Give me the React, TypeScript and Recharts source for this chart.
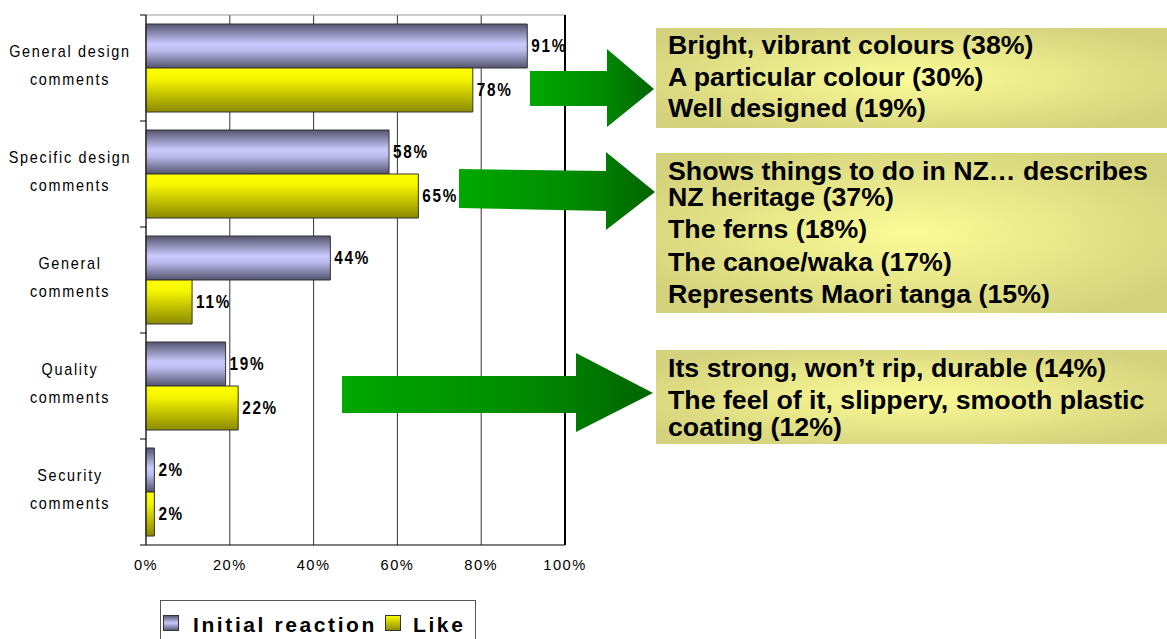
import React from 'react';
import { BarChart, Bar, XAxis, YAxis, CartesianGrid, LabelList, ReferenceLine } from 'recharts';

const categories = ['General design comments', 'Specific design comments', 'General comments', 'Quality comments', 'Security comments'];
const categoryLines = [
  ['General design', 'comments'],
  ['Specific design', 'comments'],
  ['General', 'comments'],
  ['Quality', 'comments'],
  ['Security', 'comments'],
];
const initialReaction = [91, 58, 44, 19, 2];
const likeValues = [78, 65, 11, 22, 2];
const xTicks = [0, 20, 40, 60, 80, 100];
const seriesNames = ['Initial reaction', 'Like'];

const box1Lines = ['Bright, vibrant colours (38%)', 'A particular colour (30%)', 'Well designed (19%)'];
const box2Lines = ['Shows things to do in NZ\u2026 describes', 'NZ heritage (37%)', 'The ferns (18%)', 'The canoe/waka (17%)', 'Represents Maori tanga (15%)'];
const box3Lines = ['Its strong, won\u2019t rip, durable (14%)', 'The feel of it, slippery, smooth plastic', 'coating (12%)'];

const data = categories.map((c, i) => ({ category: c, initial: initialReaction[i], like: likeValues[i] }));

const W = 1167;
const H = 639;
const M_TOP = 15;
const M_RIGHT = 602;
const M_BOTTOM = 64;
const X_AXIS_H = 30;
const Y_AXIS_W = 146;
const PLOT_LEFT = Y_AXIS_W;
const PLOT_H = H - M_TOP - M_BOTTOM - X_AXIS_H;
const BAND = PLOT_H / categories.length;

const FONT = "'Liberation Sans', Arial, Helvetica, sans-serif";

function StretchText({ x, y, anchor = 'start', size, weight = 'normal', spacing = 0, sx = 1, children }: any) {
  return (
    <g transform={`translate(${x},${y}) scale(${sx},1)`}>
      <text x={0} y={0} textAnchor={anchor} dominantBaseline="central" fontFamily={FONT}
        fontSize={size} fontWeight={weight} letterSpacing={spacing} fill="#000">{children}</text>
    </g>
  );
}

function YTick(props: any) {
  const { y, index } = props;
  const lines = categoryLines[index] || [];
  return (
    <g>
      <line x1={PLOT_LEFT - 6} x2={PLOT_LEFT} y1={y - BAND / 2} y2={y - BAND / 2} stroke="#000" />
      {index === categories.length - 1 && (
        <line x1={PLOT_LEFT - 6} x2={PLOT_LEFT} y1={y + BAND / 2} y2={y + BAND / 2} stroke="#000" />
      )}
      <StretchText x={70} y={y - 17} anchor="middle" size={16} sx={0.9} spacing={1.9}>{lines[0]}</StretchText>
      <StretchText x={70} y={y + 11} anchor="middle" size={16} sx={0.9} spacing={1.9}>{lines[1]}</StretchText>
    </g>
  );
}

function XTick(props: any) {
  const { x, y, payload } = props;
  return <StretchText x={x} y={y + 12} anchor="middle" size={14} sx={1.05} spacing={1.4}>{`${payload.value}%`}</StretchText>;
}

const renderValueLabel = (props: any) => {
  const { x, y, width, height, value } = props;
  return <StretchText x={x + width + 4} y={y + height / 2} size={18} sx={0.85} spacing={2} weight="bold">{`${value}%`}</StretchText>;
};

function Arrow({ pts, id }: { pts: string; id: string }) {
  return <polygon points={pts} fill={`url(#${id})`} />;
}

function TextBox({ x, y, w, h, lines, lineYs }: any) {
  return (
    <g>
      <rect x={x} y={y} width={w} height={h} fill="url(#boxGrad)" />
      {lines.map((l: string, i: number) => (
        <g key={i} transform={`translate(${x + 12},${lineYs[i]}) scale(1.07,1)`}>
          <text x={0} y={0} dominantBaseline="central" fontFamily={FONT} fontSize={25} fontWeight="bold" fill="#000">{l}</text>
        </g>
      ))}
    </g>
  );
}

export default function App() {
  return (
    <div style={{ position: 'absolute', left: 0, top: 0, width: W, height: H, background: '#fff', overflow: 'hidden' }}>
      <BarChart width={W} height={H} data={data} layout="vertical"
        margin={{ top: M_TOP, right: M_RIGHT, bottom: M_BOTTOM, left: 0 }}
        barCategoryGap="8.5%" barGap={0}>
        <defs>
          <linearGradient id="purpleGrad" x1="0" y1="0" x2="0" y2="1">
            <stop offset="0%" stopColor="#54546e" />
            <stop offset="45%" stopColor="#cacafe" />
            <stop offset="60%" stopColor="#babaec" />
            <stop offset="100%" stopColor="#54546e" />
          </linearGradient>
          <linearGradient id="yellowGrad" x1="0" y1="0" x2="0" y2="1">
            <stop offset="0%" stopColor="#ffff00" />
            <stop offset="25%" stopColor="#f6f600" />
            <stop offset="100%" stopColor="#8a8a00" />
          </linearGradient>
        </defs>
        <CartesianGrid horizontal={false} vertical stroke="#333" />
        <CartesianGrid vertical={false} horizontal stroke="#999"
          horizontalCoordinatesGenerator={({ offset }: any) => [offset.top]} />
        <XAxis type="number" domain={[0, 100]} ticks={xTicks} height={X_AXIS_H}
          axisLine={{ stroke: '#000' }} tickLine={false} tick={<XTick />} interval={0} />
        <YAxis type="category" dataKey="category" width={Y_AXIS_W}
          axisLine={{ stroke: '#222' }} tickLine={false} tick={<YTick />} interval={0} />
        <ReferenceLine x={100} stroke="#000" strokeWidth={2} />
        <Bar dataKey="initial" name={seriesNames[0]} fill="url(#purpleGrad)" stroke="#333" strokeWidth={1} isAnimationActive={false}>
          <LabelList dataKey="initial" content={renderValueLabel} />
        </Bar>
        <Bar dataKey="like" name={seriesNames[1]} fill="url(#yellowGrad)" stroke="#333" strokeWidth={1} isAnimationActive={false}>
          <LabelList dataKey="like" content={renderValueLabel} />
        </Bar>
      </BarChart>
      <svg width={W} height={H} style={{ position: 'absolute', left: 0, top: 0, pointerEvents: 'none' }}>
        <defs>
          <linearGradient id="greenGrad" x1="0" y1="0" x2="1" y2="0">
            <stop offset="0%" stopColor="#00a800" />
            <stop offset="60%" stopColor="#008a00" />
            <stop offset="100%" stopColor="#006400" />
          </linearGradient>
          <radialGradient id="boxGrad" cx="0.5" cy="0.5" r="0.6">
            <stop offset="0%" stopColor="#fcfc98" />
            <stop offset="100%" stopColor="#d4d27c" />
          </radialGradient>
          <linearGradient id="legPurple" x1="0" y1="0" x2="0" y2="1">
            <stop offset="0%" stopColor="#54546e" />
            <stop offset="50%" stopColor="#c8c8fc" />
            <stop offset="100%" stopColor="#54546e" />
          </linearGradient>
          <linearGradient id="legYellow" x1="0" y1="0" x2="0" y2="1">
            <stop offset="0%" stopColor="#ffff00" />
            <stop offset="100%" stopColor="#8a8a00" />
          </linearGradient>
        </defs>
        <Arrow id="greenGrad" pts="530,71 607,71 607,49 654,89 607,127 607,106 530,106" />
        <Arrow id="greenGrad" pts="459,169 606,171 606,152 655,192 606,230 606,211 459,208" />
        <Arrow id="greenGrad" pts="342,376 576,376 576,353 653,393 576,432 576,413 342,413" />
        <TextBox x={656} y={28} w={W - 656} h={100} lines={box1Lines} lineYs={[45, 77, 108]} />
        <TextBox x={656} y={153} w={W - 656} h={160} lines={box2Lines} lineYs={[171, 197, 229, 262, 294]} />
        <TextBox x={656} y={350} w={W - 656} h={94} lines={box3Lines} lineYs={[368, 400, 427]} />
        <rect x={160.5} y={600.5} width={315} height={50} fill="#fff" stroke="#555" />
        <rect x={163.5} y={615.5} width={15} height={15} fill="url(#legPurple)" stroke="#333" />
        <StretchText x={193} y={624} size={21} weight="bold" spacing={2.6}>{seriesNames[0]}</StretchText>
        <rect x={385.5} y={615.5} width={15} height={15} fill="url(#legYellow)" stroke="#333" />
        <StretchText x={413} y={624} size={21} weight="bold" spacing={2.6}>{seriesNames[1]}</StretchText>
      </svg>
    </div>
  );
}
